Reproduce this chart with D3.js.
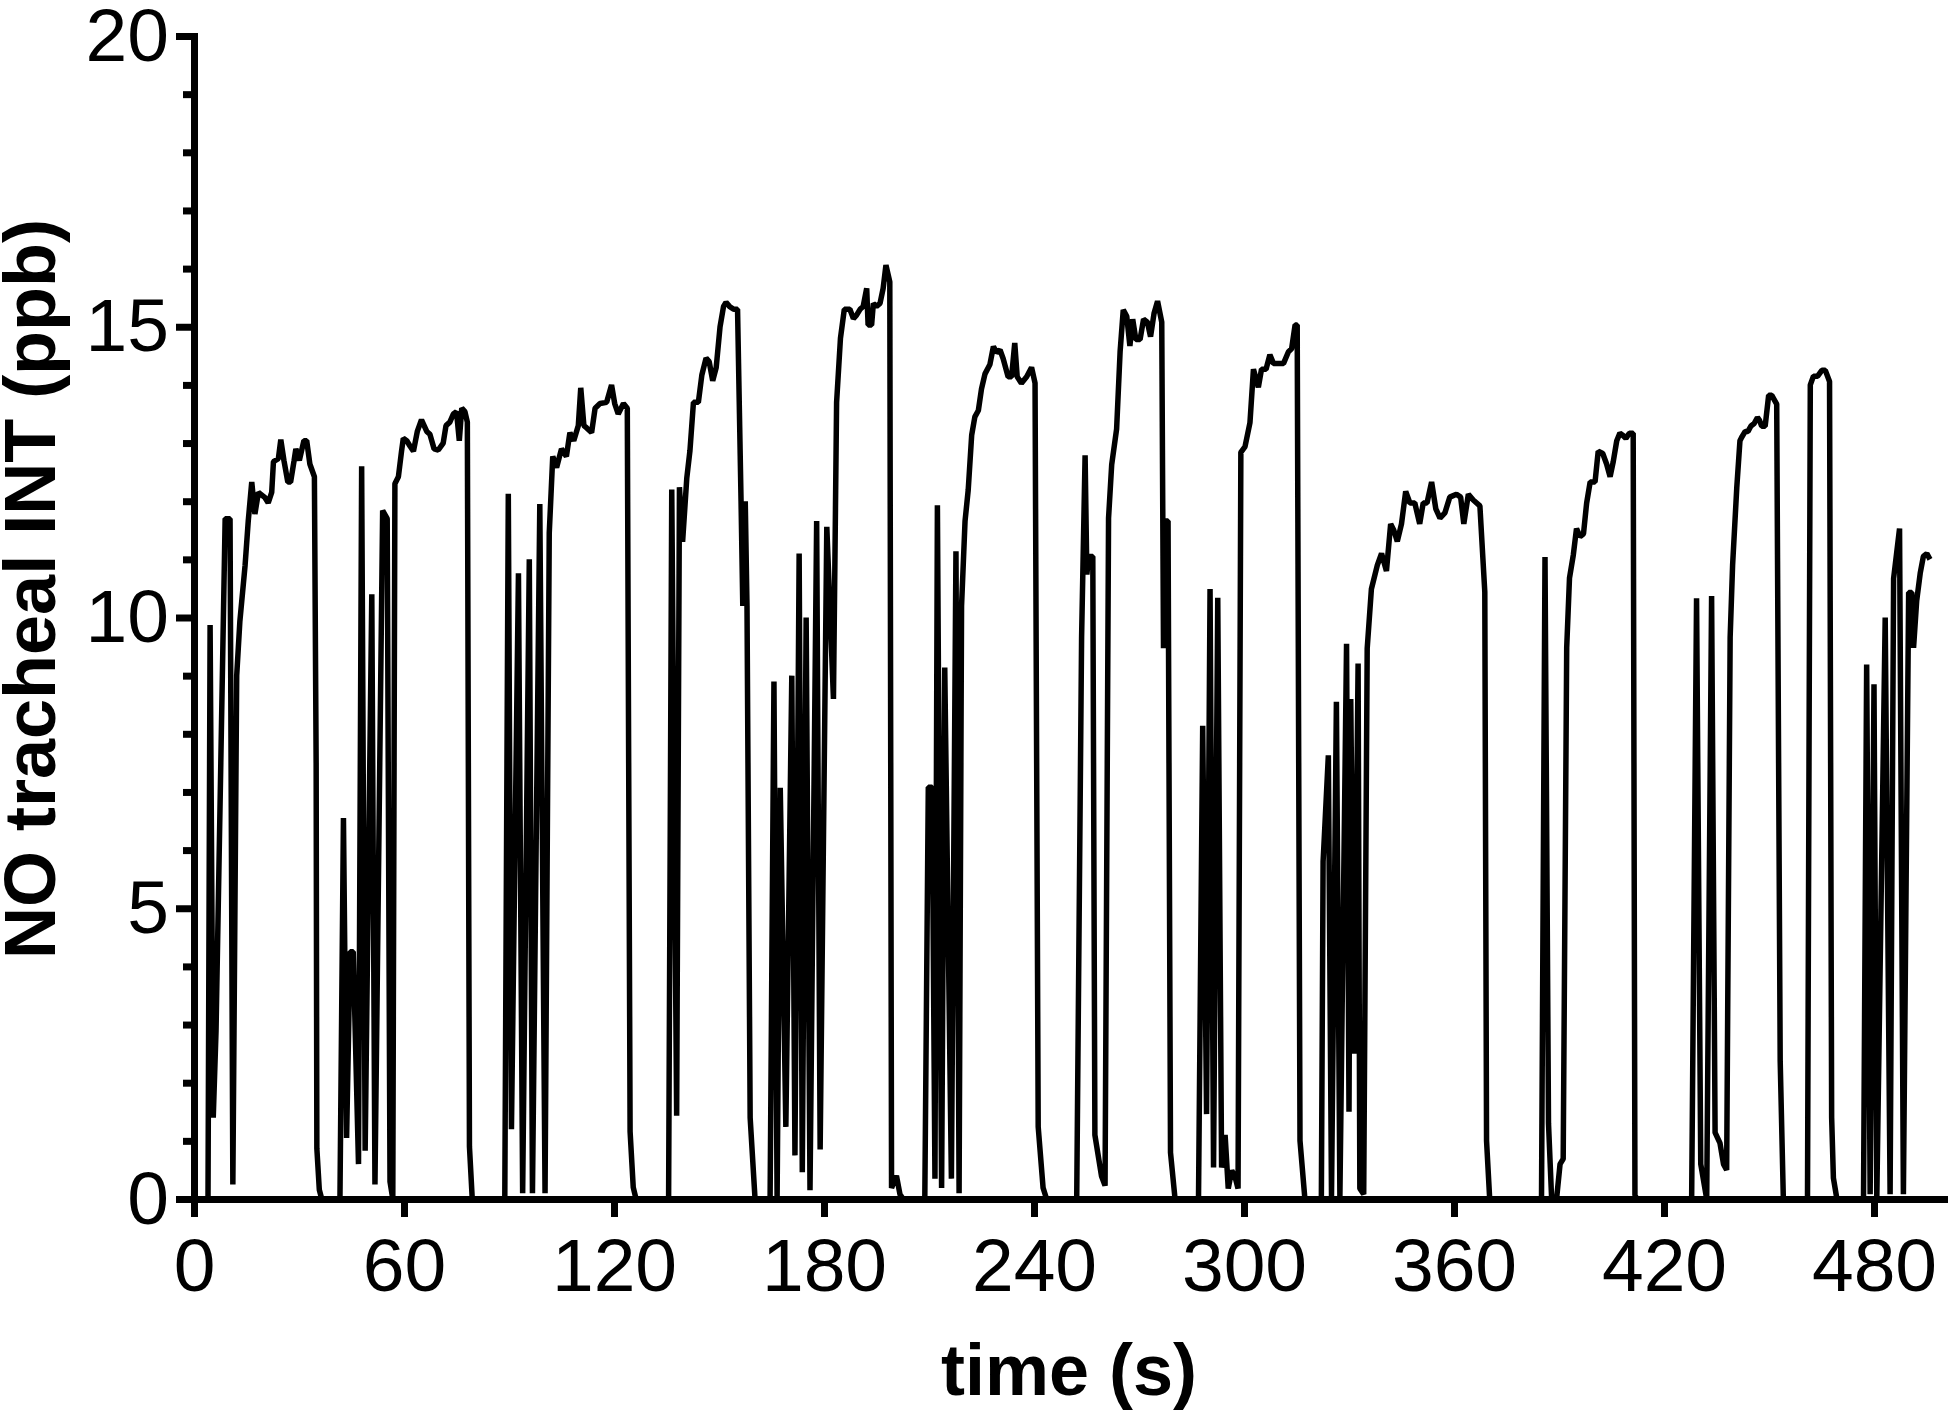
<!DOCTYPE html>
<html>
<head>
<meta charset="utf-8">
<script src="https://cdn.jsdelivr.net/npm/d3@7"></script>
<style>
  html, body { margin: 0; padding: 0; background: #fff; }
  svg text { font-family: "Liberation Sans", Arial, sans-serif; fill: #000; }
</style>
</head>
<body>
<div id="viz"></div>
<script>
// NO tracheal INT trace
// time in seconds, one row of the source per breath cycle
var timeS = [
  0, 4.0, 4.6, 5.5, 6.3, 8.9, 10.3, 11.1, 12.2, 13.1, 14.6, 15.5, 16.5, 17.4, 18.4, 20.3, 21.2, 22.2, 22.7, 24.1, 24.8, 25.7, 26.8, 27.6, 28.6, 29.1, 30.1, 31.4, 32.2, 33.1, 34.4, 34.9, 35.1, 35.8, 36.5,
  41.7, 42.7, 43.6, 44.6, 45.5, 47.0, 47.9, 48.9, 50.8, 51.7, 53.9, 55.2, 56.0, 56.8, 57.4, 58.4, 59.3, 59.8, 60.8, 61.7, 62.7, 63.8, 65.0, 66.5, 67.4, 68.6, 69.8, 71.2, 72.0, 73.1, 74.1, 75.0, 75.8, 76.5, 77.4, 78.1, 78.7, 79.5,
  88.8, 89.8, 90.7, 92.7, 93.9, 95.8, 96.7, 98.8, 100.3, 101.5, 102.5, 103.6, 105.0, 106.4, 107.4, 108.5, 109.8, 110.5, 111.4, 112.2, 113.6, 114.6, 116.0, 117.9, 119.3, 120.2, 121.2, 122.7, 123.8, 124.6, 125.5, 126.3,
  135.6, 136.5, 137.9, 138.7, 139.6, 140.8, 141.7, 142.7, 144.1, 145.1, 146.3, 147.2, 148.2, 149.2, 150.3, 151.3, 152.0, 153.0, 154.2, 155.3, 156.3, 156.8, 157.5, 158.0, 158.9, 160.3,
  164.6, 165.7, 166.6, 167.5, 169.1, 170.8, 171.7, 172.9, 173.8, 174.9, 176.0, 177.9, 178.9, 180.8, 182.7, 183.6, 184.7, 185.8, 187.4, 188.4, 189.3, 190.3, 191.2, 192.2, 192.6, 193.6, 194.1, 195.0, 196.0, 196.9, 197.7, 198.8, 199.3, 200.7, 201.7, 202.6,
  208.8, 209.8, 210.9, 211.7, 212.4, 213.6, 214.5, 216.4, 217.7, 218.6, 219.3, 220.3, 221.2, 222.2, 223.1, 224.1, 225.0, 226.0, 227.4, 228.4, 229.3, 230.3, 231.2, 232.6, 233.6, 234.5, 235.2, 236.4, 237.9, 239.3, 240.3, 241.2, 242.6, 243.6,
  252.2, 253.6, 254.6, 255.1, 255.6, 256.8, 257.4, 259.3, 260.3, 261.3, 262.2, 263.6, 264.6, 265.5, 266.5, 267.4, 268.2, 269.1, 270.3, 271.3, 272.4, 273.3, 274.3, 275.3, 276.5, 277.0, 277.5, 278.3, 279.0, 280.3,
  287.0, 288.2, 289.3, 290.3, 291.3, 292.5, 293.6, 294.6, 295.5, 296.5, 297.4, 298.3, 299.1, 300.3, 301.7, 302.7, 304.1, 305.0, 306.3, 307.4, 308.4, 309.5, 311.3, 312.7, 313.6, 314.6, 315.2, 316.0, 317.4,
  322.1, 322.6, 324.1, 325.0, 326.4, 327.4, 329.3, 330.0, 330.5, 331.5, 332.6, 333.1, 334.2, 335.2, 336.4, 338.1, 339.3, 340.7, 341.9, 342.8, 343.8, 345.0, 346.2, 347.4, 348.8, 350.2, 351.2, 352.3, 353.6, 354.8, 356.0, 357.4, 358.8, 360.7, 361.9, 362.8, 364.1, 365.5, 367.4, 368.8, 369.3, 370.2,
  385.0, 386.0, 387.0, 387.9, 389.3, 390.3, 391.2, 392.2, 393.0, 394.1, 395.0, 396.0, 397.0, 397.9, 398.9, 400.3, 401.2, 402.5, 403.6, 404.6, 405.5, 406.5, 407.4, 408.3, 409.1, 410.1, 411.2, 411.7, 412.2,
  427.9, 429.3, 430.5, 432.2, 433.6, 434.6, 436.0, 437.0, 437.9, 438.9, 439.6, 440.8, 441.7, 442.2, 443.2, 444.0, 444.8, 445.8, 446.7, 447.3, 447.9, 448.9, 449.9, 450.8, 452.2, 453.2, 454.1,
  461.0, 461.8, 462.7, 463.9, 465.1, 466.1, 467.3, 467.9, 468.4, 469.4,
  477.0, 477.9, 478.9, 480.0, 480.8, 483.2, 484.6, 485.6, 487.3, 488.4, 489.9, 490.8, 491.3, 492.2, 493.2, 494.1, 495.1, 496.0
];

// NO tracheal INT, ppb (same order as timeS)
var noPpb = [
  0, 0, 9.87, 1.4, 2.9, 11.7, 11.7, 0.25, 9.0, 9.93, 10.9, 11.66, 12.33, 11.78, 12.15, 12.06, 11.97, 12.15, 12.68, 12.73, 13.06, 12.7, 12.33, 12.33, 12.7, 12.9, 12.7, 13.04, 13.04, 12.64, 12.42, 7.5, 0.87, 0.16, 0,
  0, 6.55, 1.05, 4.25, 4.25, 0.6, 12.6, 0.83, 10.4, 0.25, 11.84, 11.7, 0.3, 0, 12.3, 12.42, 12.86, 13.08, 13.04, 12.95, 12.86, 13.2, 13.4, 13.2, 13.15, 12.9, 12.88, 13.0, 13.3, 13.36, 13.5, 13.54, 13.04, 13.6, 13.54, 13.36, 0.9, 0,
  0, 12.13, 1.2, 10.76, 0.1, 11.0, 0.1, 11.95, 0.1, 11.45, 12.77, 12.58, 12.9, 12.77, 13.18, 13.04, 13.3, 13.95, 13.3, 13.26, 13.18, 13.6, 13.68, 13.7, 14.0, 13.68, 13.5, 13.68, 13.6, 1.16, 0.2, 0,
  0, 12.2, 1.43, 12.24, 11.3, 12.4, 12.87, 13.7, 13.7, 14.17, 14.46, 14.4, 14.07, 14.3, 15.0, 15.35, 15.42, 15.35, 15.3, 15.3, 12.0, 10.2, 12.0, 10.2, 1.4, 0,
  0, 8.9, 0, 7.07, 1.24, 9.0, 0.75, 11.1, 0.46, 10.0, 0.15, 11.66, 0.85, 11.56, 8.6, 13.7, 14.8, 15.3, 15.3, 15.14, 15.2, 15.3, 15.35, 15.66, 15.03, 15.03, 15.4, 15.35, 15.4, 15.66, 16.06, 15.77, 0.19, 0.4, 0.08, 0,
  0, 7.08, 7.08, 0.35, 11.93, 0.19, 9.14, 0.35, 11.14, 0.1, 10.2, 11.66, 12.19, 13.14, 13.45, 13.56, 13.93, 14.19, 14.35, 14.66, 14.56, 14.6, 14.45, 14.14, 14.14, 14.72, 14.14, 14.03, 14.14, 14.3, 14.03, 1.24, 0.19, 0,
  0, 9.67, 12.79, 10.74, 11.05, 11.05, 1.1, 0.39, 0.23, 11.71, 12.63, 13.24, 14.57, 15.29, 15.18, 14.67, 15.13, 14.78, 14.78, 15.13, 15.08, 14.83, 15.23, 15.44, 15.08, 9.47, 11.66, 11.66, 0.8, 0,
  0, 8.14, 1.46, 10.49, 0.54, 10.34, 0.54, 1.1, 0.18, 0.49, 0.39, 0.18, 12.84, 12.94, 13.35, 14.27, 13.96, 14.27, 14.27, 14.52, 14.37, 14.37, 14.37, 14.57, 14.62, 15.03, 15.03, 1.0, 0,
  0, 5.8, 7.63, 0.05, 8.55, 0.05, 9.55, 1.5, 8.6, 2.5, 9.21, 0.18, 0.08, 9.47, 10.49, 10.9, 11.1, 10.8, 11.61, 11.5, 11.31, 11.61, 12.17, 11.97, 11.97, 11.61, 11.97, 11.97, 12.33, 11.87, 11.71, 11.8, 12.07, 12.12, 12.07, 11.61, 12.12, 12.02, 11.92, 10.44, 1.0, 0,
  0, 11.04, 1.3, 0, 0, 0.6, 0.69, 9.48, 10.68, 11.08, 11.53, 11.39, 11.44, 11.97, 12.33, 12.33, 12.86, 12.82, 12.64, 12.42, 12.68, 13.04, 13.17, 13.13, 13.08, 13.17, 13.17, 0.07, 0,
  0, 10.33, 0.6, 0, 10.37, 1.14, 0.96, 0.6, 0.5, 9.66, 10.9, 12.24, 13.04, 13.1, 13.2, 13.2, 13.29, 13.34, 13.44, 13.39, 13.29, 13.29, 13.82, 13.82, 13.67, 2.37, 0,
  0, 14.0, 14.15, 14.15, 14.25, 14.25, 14.06, 1.4, 0.36, 0,
  0, 9.19, 0.08, 8.85, 0, 10.0, 0.08, 10.67, 11.53, 0.08, 10.43, 10.43, 9.48, 10.29, 10.76, 11.05, 11.1, 11.0
];

var xTicks = [0, 60, 120, 180, 240, 300, 360, 420, 480],
    yTicks = [0, 5, 10, 15, 20],
    yMinorTicks = d3.range(0, 21).filter(function(d) { return d % 5 !== 0; });

var xTitle = "time (s)",
    yTitle = "NO tracheal INT (ppb)";

var screenWidth = 1952,
    screenHeight = 1412,
    margin = {"top": 36, "bottom": 213, "left": 194, "right": 8},
    canvasWidth = screenWidth - margin.left - margin.right,
    canvasHeight = screenHeight - margin.top - margin.bottom;

var svg = d3.select("div#viz")
            .append("svg")
            .attr("width", screenWidth)
            .attr("height", screenHeight);

var xScale = d3.scaleLinear()
               .domain([0, 500])
               .range([margin.left, margin.left + canvasWidth]),
    yScale = d3.scaleLinear()
               .domain([0, 20])
               .range([margin.top + canvasHeight, margin.top]);

var axisStroke = 7;

// minor y ticks first, so the main axis draws over them
svg.append("g")
   .attr("class", "y minor")
   .attr("transform", "translate(" + margin.left + ",0)")
   .call(d3.axisLeft(yScale).tickValues(yMinorTicks).tickSize(11).tickSizeOuter(0).tickFormat(""))
   .call(function(g) { g.select(".domain").remove(); });

var yAxis = d3.axisLeft(yScale)
              .tickValues(yTicks)
              .tickSize(18)
              .tickSizeOuter(0)
              .tickPadding(7);

var xAxis = d3.axisBottom(xScale)
              .tickValues(xTicks)
              .tickSize(18)
              .tickSizeOuter(0)
              .tickPadding(21);

// the trace
var line = d3.line()
             .x(function(d) { return xScale(d[0]); })
             .y(function(d) { return yScale(d[1]); });

var points = timeS.map(function(t, i) { return [t, noPpb[i]]; });

svg.append("path")
   .datum(points)
   .attr("fill", "none")
   .attr("stroke", "#000")
   .attr("stroke-width", 5.5)
   .attr("stroke-linejoin", "bevel")
   .attr("d", line);

svg.append("g")
   .attr("class", "y axis")
   .attr("transform", "translate(" + margin.left + ",0)")
   .call(yAxis);

svg.append("g")
   .attr("class", "x axis")
   .attr("transform", "translate(0," + (margin.top + canvasHeight) + ")")
   .call(xAxis);

svg.selectAll(".axis path, .axis line, .minor line")
   .attr("stroke", "#000")
   .attr("stroke-width", axisStroke);

svg.selectAll(".axis path.domain")
   .attr("stroke-linecap", "square");

svg.selectAll(".axis text")
   .style("font-size", "75px")
   .attr("fill", "#000");

// axis titles
svg.append("text")
   .attr("x", xScale(250))
   .attr("y", 1395)
   .style("text-anchor", "middle")
   .style("font-size", "72px")
   .style("font-weight", "bold")
   .text(xTitle);

svg.append("text")
   .attr("transform", "translate(55,589) rotate(-90)")
   .style("text-anchor", "middle")
   .style("font-size", "72px")
   .style("font-weight", "bold")
   .text(yTitle);
</script>
</body>
</html>
